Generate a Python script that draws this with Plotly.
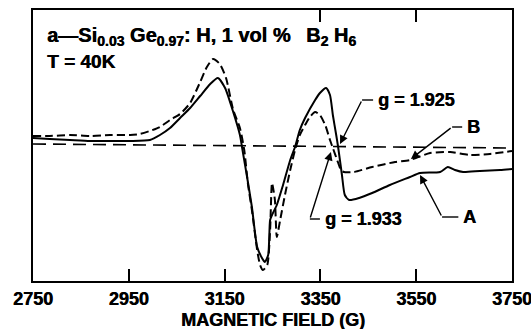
import plotly.graph_objects as go

# ---- data (arbitrary signal units) ----
field_A = [2750, 2785, 2827, 2869, 2911, 2953, 2994, 3015, 3036, 3057, 3078, 3099, 3120, 3136,
           3151, 3168, 3182, 3186, 3199, 3207, 3218, 3228, 3234, 3241, 3245, 3249, 3259, 3272,
           3287, 3297, 3307, 3318, 3339, 3349, 3362, 3370, 3376, 3383, 3387, 3395, 3401, 3410,
           3431, 3458, 3495, 3537, 3558, 3600, 3616, 3631, 3648, 3683, 3725, 3750]
signal_A = [143, 142, 141, 140, 140, 140, 141, 146, 153, 163, 173, 185, 197, 203,
            193, 169, 146, 135, 98, 74, 34, 23, 19, 26, 61, 66, 76, 96,
            121, 134, 151, 163, 181, 188, 193, 186, 166, 146, 134, 106, 86, 81,
            83, 88, 96, 104, 108, 109, 114, 111, 109, 110, 111, 112]

field_B = [2750, 2785, 2827, 2869, 2911, 2953, 2973, 2994, 3015, 3036, 3057, 3078, 3099, 3113,
           3126, 3140, 3153, 3168, 3182, 3191, 3199, 3207, 3218, 3224, 3230, 3239, 3245, 3249,
           3255, 3259, 3266, 3276, 3287, 3297, 3307, 3318, 3328, 3339, 3349, 3360, 3370, 3376,
           3385, 3393, 3399, 3420, 3458, 3506, 3537, 3579, 3621, 3662, 3704, 3750]
signal_B = [145, 145, 146, 145, 146, 146, 147, 150, 154, 161, 167, 178, 199, 214,
            222, 217, 203, 171, 153, 131, 96, 71, 31, 16, 11, 16, 51, 98,
            81, 44, 61, 86, 111, 131, 146, 156, 164, 169, 166, 156, 141, 133,
            121, 111, 109, 109, 114, 119, 121, 128, 129, 126, 127, 130]

field_base = [2750, 3750]
signal_base = [137, 133]

x_ticks = [2750, 2950, 3150, 3350, 3550, 3750]
top_ticks = [3350, 3550]
x_title = "MAGNETIC FIELD (G)"

# annotation anchors: (label, text_x, text_y, stub_end_x, tip_x, tip_y)
labels = [
    ("g = 1.925", 3466, 181, 3437, 3391, 137),
    ("B", 3652, 154, 3625, 3539, 122),
    ("g = 1.933", 3355, 62, 3328, 3372, 129),
    ("A", 3644, 64, 3604, 3558, 106),
]

FONT = "Liberation Sans, Arial, Helvetica, sans-serif"
HEAVY = "0.5px 0 0 black"


def sub(s):
    return '<sub><span style="font-size:14px">' + s + '</span></sub>'


title_line1 = ("<b>a\u2014Si" + sub("0.03") + " Ge" + sub("0.97") + ": H, 1 vol %\u2002 B"
               + sub("2") + " H" + sub("6") + "</b>")


def fnt(size):
    return dict(family=FONT, size=size, color="black", shadow=HEAVY)


fig = go.Figure()
fig.add_trace(go.Scatter(x=field_base, y=signal_base, mode="lines",
                         line=dict(color="black", width=1.6, dash="13px,7px")))
fig.add_trace(go.Scatter(x=field_B, y=signal_B, mode="lines",
                         line=dict(color="black", width=2, dash="8px,4px", shape="spline", smoothing=0.6)))
fig.add_trace(go.Scatter(x=field_A, y=signal_A, mode="lines",
                         line=dict(color="black", width=2, shape="spline", smoothing=0.6)))
fig.add_trace(go.Scatter(x=[], y=[], xaxis="x2", showlegend=False))

annotations = []
shapes = []
for text, tx, ty, sx, px, py in labels:
    annotations.append(dict(x=tx, y=ty, text="<b>" + text + "</b>", showarrow=False, xanchor="left",
                            yanchor="middle", font=fnt(18)))
    shapes.append(dict(type="line", xref="x", yref="y", x0=tx - 6, x1=sx, y0=ty, y1=ty,
                       line=dict(color="black", width=1.4)))
    annotations.append(dict(x=px, y=py, ax=sx, ay=ty, axref="x", ayref="y", text="",
                            showarrow=True, arrowhead=2, arrowsize=1.2, arrowwidth=1.4,
                            arrowcolor="black"))

annotations.append(dict(x=2776, y=245, xref="x", yref="y", xanchor="left", yanchor="middle",
                        showarrow=False, text=title_line1, font=fnt(20)))
annotations.append(dict(x=2776, y=220, xref="x", yref="y", xanchor="left", yanchor="middle",
                        showarrow=False, text="<b>T = 40K</b>", font=fnt(19)))
# x-axis title
annotations.append(dict(x=0.5, y=-0.144, xref="paper", yref="paper", xanchor="center",
                        yanchor="middle", showarrow=False, text="<b>" + x_title + "</b>",
                        font=fnt(18)))

fig.update_layout(
    width=531, height=329,
    margin=dict(l=33, r=19, t=10, b=48, autoexpand=False),
    paper_bgcolor="white", plot_bgcolor="white",
    showlegend=False,
    xaxis=dict(range=[2750, 3750], tickvals=x_ticks, ticktext=["<b>%d</b>" % v for v in x_ticks],
               ticks="inside", ticklen=12, tickwidth=1.5, tickcolor="black",
               ticklabeloverflow="allow", automargin=False,
               showline=True, linecolor="black", linewidth=2, mirror=True,
               showgrid=False, zeroline=False,
               tickfont=fnt(18)),
    xaxis2=dict(range=[2750, 3750], overlaying="x", side="top", tickvals=top_ticks,
                ticks="inside", ticklen=12, tickwidth=1.5, tickcolor="black",
                showticklabels=False, showgrid=False, zeroline=False, showline=False),
    yaxis=dict(range=[0, 271], showticklabels=False, ticks="", showgrid=False, zeroline=False,
               showline=True, linecolor="black", linewidth=2, mirror=True),
    annotations=annotations,
    shapes=shapes,
)

fig.write_html("out.html")
